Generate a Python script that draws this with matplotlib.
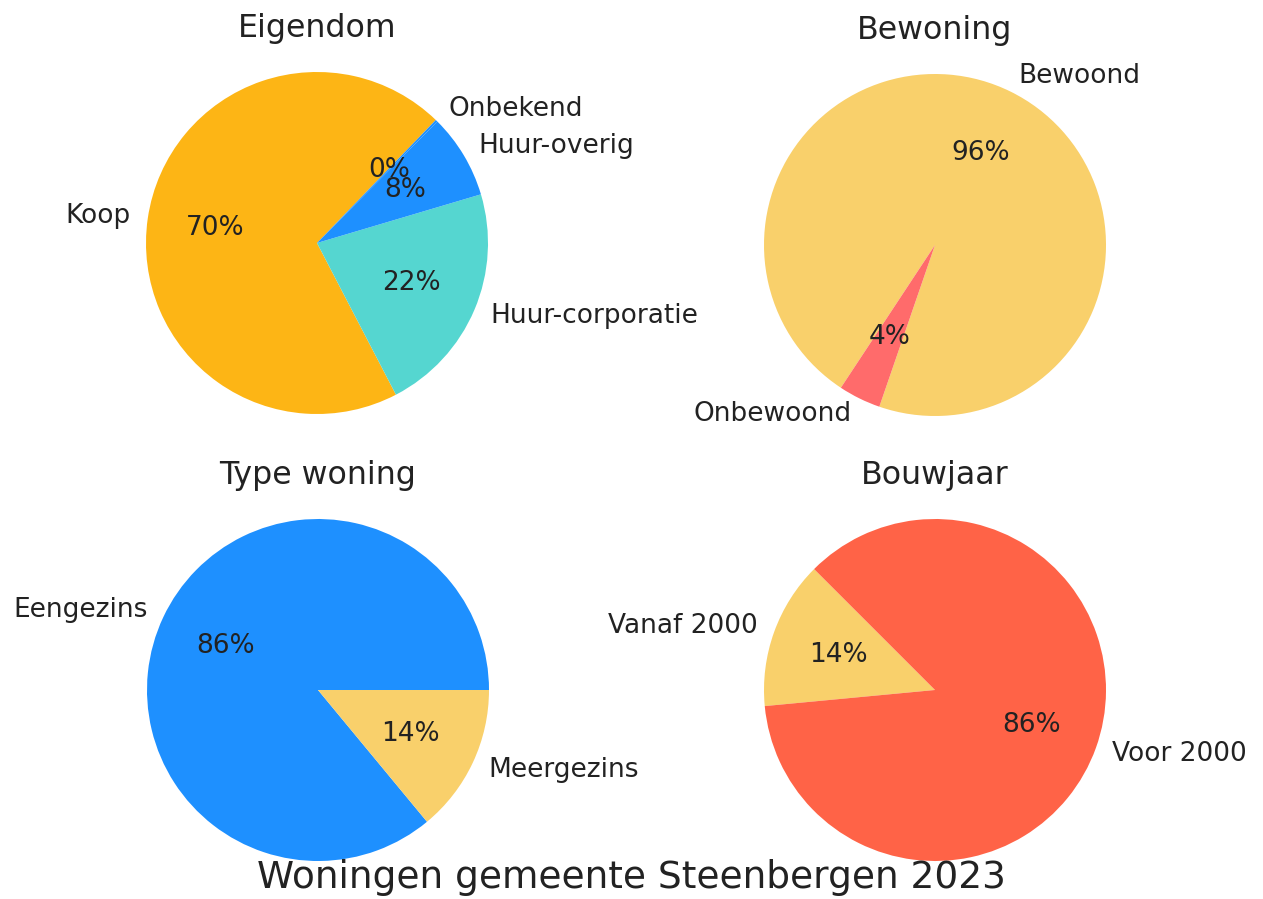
import matplotlib
matplotlib.use("Agg")
import matplotlib.pyplot as plt

# data
eigendom_labels = ['Koop', 'Huur-corporatie', 'Huur-overig', 'Onbekend']
eigendom_values = [70, 22, 8, 0.2]
eigendom_colors = ['#FDB515', '#55D6D0', 'dodgerblue', 'dodgerblue']

bewoning_labels = ['Bewoond', 'Onbewoond']
bewoning_values = [96, 4]
bewoning_colors = ['#F9D06B', '#FF6B6B']

type_labels = ['Eengezins', 'Meergezins']
type_values = [86, 14]
type_colors = ['dodgerblue', '#F9D06B']

bouwjaar_labels = ['Vanaf 2000', 'Voor 2000']
bouwjaar_values = [14, 86]
bouwjaar_colors = ['#F9D06B', 'tomato']

W, H, DPI = 1263, 899, 190
fig = plt.figure(figsize=(W / DPI, H / DPI), dpi=DPI)

R = 171      # pie radius in px
LIM = 1.13   # axis limits in pie units


def make_ax(cx, cy):
    size = 2 * LIM * R
    return fig.add_axes([(cx - size / 2) / W, (H - cy - size / 2) / H, size / W, size / H])


charts = [
    ('Eigendom', eigendom_values, eigendom_labels, eigendom_colors, 46, (317, 243)),
    ('Bewoning', bewoning_values, bewoning_labels, bewoning_colors, -109, (935, 245)),
    ('Type woning', type_values, type_labels, type_colors, 0, (318, 690)),
    ('Bouwjaar', bouwjaar_values, bouwjaar_labels, bouwjaar_colors, 135, (935, 690)),
]

for title, vals, labs, cols, start, (cx, cy) in charts:
    ax = make_ax(cx, cy)
    ax.pie(vals, labels=labs, colors=cols, autopct='%1.0f%%', startangle=start,
           textprops={'fontsize': 10, 'color': '#222222'})
    ax.set_xlim(-LIM, LIM)
    ax.set_ylim(-LIM, LIM)
    ax.set_title(title, fontsize=12, color='#222222', pad=5)

fig.text(0.5, 1 - 878 / H, 'Woningen gemeente Steenbergen 2023', ha='center', va='center',
         fontsize=14.2, color='#222222')

fig.savefig('out.png', dpi=DPI)
